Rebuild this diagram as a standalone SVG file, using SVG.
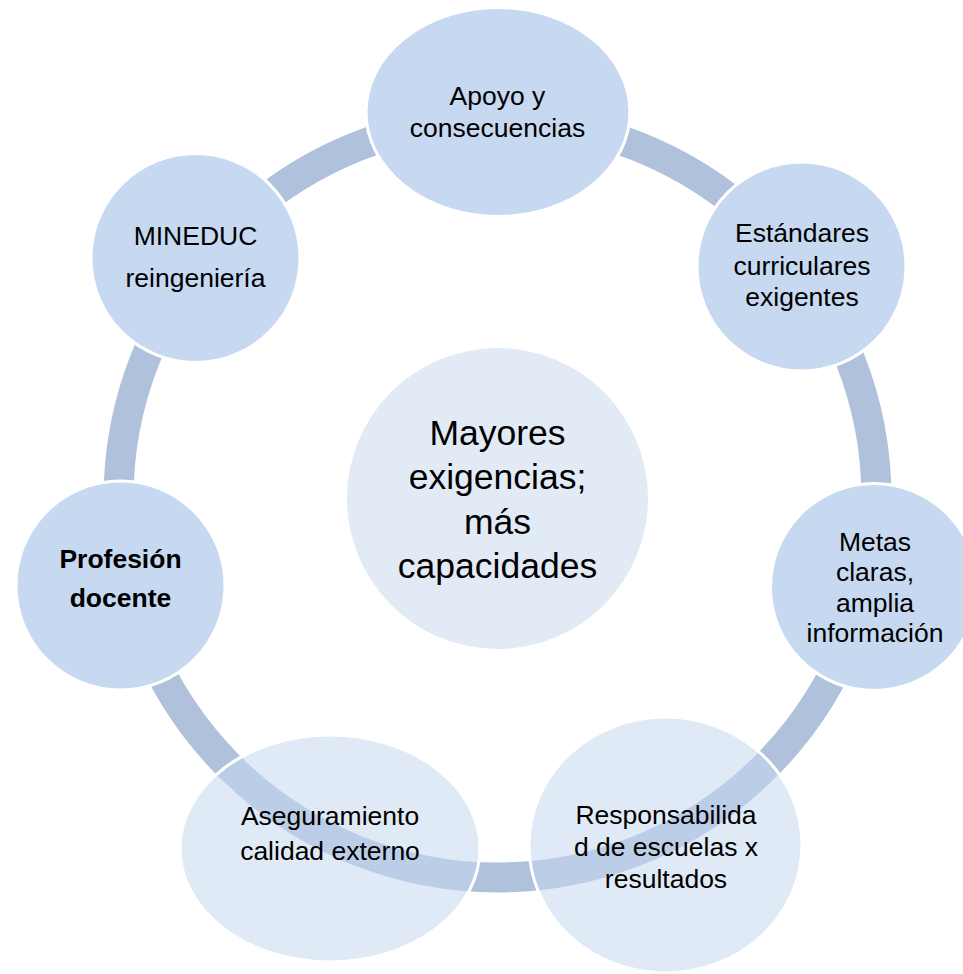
<svg xmlns="http://www.w3.org/2000/svg" width="963" height="974" viewBox="0 0 963 974">
<style>
.node{fill:#C6D9F0;stroke:#FFFFFF;stroke-width:3}
.ghost{fill:#C6D9F0;fill-opacity:0.55;stroke:#FFFFFF;stroke-width:3}
.t{font-family:"Liberation Sans",Arial,sans-serif;font-size:26.5px;fill:#000;text-anchor:middle}
.b{font-weight:bold}
.c{font-size:35.5px}
</style>
<rect width="963" height="974" fill="#FFFFFF"/>
<g id="connectors">
<circle cx="497.5" cy="498.5" r="379" fill="none" stroke="#B0C1DC" stroke-width="30"/>
</g>
<g id="center">
<circle cx="497.5" cy="498.5" r="150.5" fill="#E2EAF6"/>
<text class="t c" x="497.5" y="445">Mayores</text>
<text class="t c" x="497.5" y="488.5">exigencias;</text>
<text class="t c" x="497.5" y="533.5">más</text>
<text class="t c" x="497.5" y="577.5">capacidades</text>
</g>
<g id="n-apoyo">
<ellipse class="node" cx="498" cy="112" rx="132" ry="104.5"/>
<text class="t" x="497.5" y="105">Apoyo y</text>
<text class="t" x="497.5" y="137">consecuencias</text>
</g>
<g id="n-estandares">
<circle class="node" cx="801.5" cy="266.5" r="104.5"/>
<text class="t" x="802" y="242">Estándares</text>
<text class="t" x="802" y="275">curriculares</text>
<text class="t" x="802" y="306">exigentes</text>
</g>
<g id="n-metas">
<circle class="node" cx="874" cy="587" r="103.5"/>
<text class="t" x="875" y="551">Metas</text>
<text class="t" x="875" y="581">claras,</text>
<text class="t" x="875" y="612">amplia</text>
<text class="t" x="875" y="642">información</text>
</g>
<g id="n-responsabilidad">
<ellipse class="ghost" cx="665.5" cy="845" rx="136.5" ry="128"/>
<text class="t" x="666" y="824">Responsabilida</text>
<text class="t" x="666" y="856">d de escuelas x</text>
<text class="t" x="666" y="888">resultados</text>
</g>
<g id="n-aseguramiento">
<ellipse class="ghost" cx="330" cy="848.5" rx="150" ry="113.5"/>
<text class="t" x="330" y="825">Aseguramiento</text>
<text class="t" x="330" y="860">calidad externo</text>
</g>
<g id="n-profesion">
<circle class="node" cx="120.5" cy="585.5" r="104.5"/>
<text class="t b" x="120.5" y="568">Profesión</text>
<text class="t b" x="120.5" y="607">docente</text>
</g>
<g id="n-mineduc">
<circle class="node" cx="195.5" cy="258" r="104.5"/>
<text class="t" x="195.5" y="245">MINEDUC</text>
<text class="t" x="195.5" y="286.5">reingeniería</text>
</g>
</svg>
